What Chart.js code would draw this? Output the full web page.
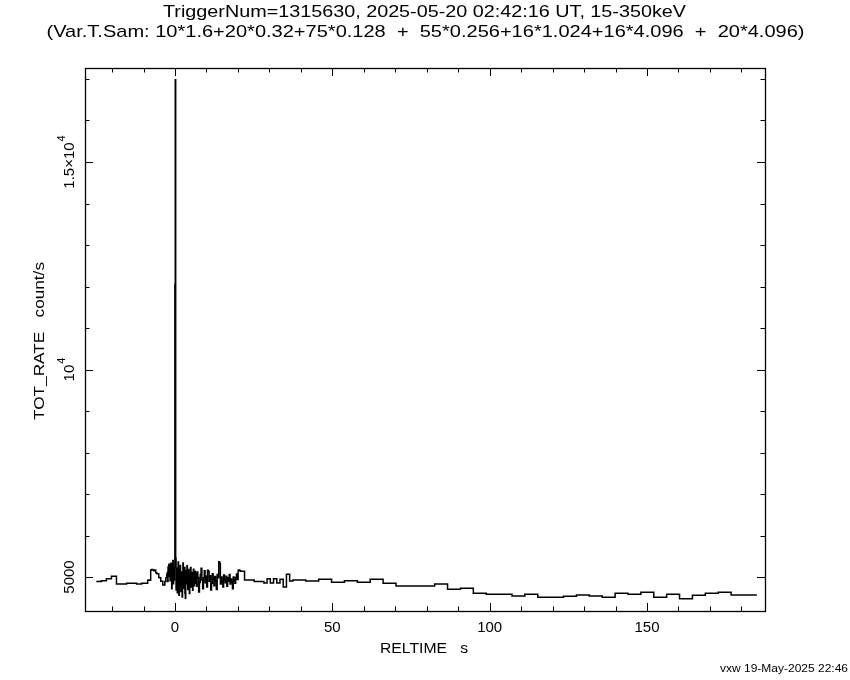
<!DOCTYPE html>
<html><head><meta charset="utf-8">
<script src="https://cdn.jsdelivr.net/npm/chart.js@4.4.1/dist/chart.umd.min.js"></script>
<style>html,body{margin:0;padding:0;background:#fff;}#wrap{width:850px;height:680px;position:relative;}</style>
</head><body><div id="wrap"><canvas id="c" width="850" height="680"></canvas></div>
<script>
// ---- text ----
const titleLine1 = 'TriggerNum=1315630, 2025-05-20 02:42:16 UT, 15-350keV';
const titleLine2 = '(Var.T.Sam: 10*1.6+20*0.32+75*0.128  +  55*0.256+16*1.024+16*4.096  +  20*4.096)';
const xAxisTitle = 'RELTIME   s';
const yAxisTitle = 'TOT_RATE   count/s';
const footerText = 'vxw 19-May-2025 22:46';
const xTickValues = [0, 50, 100, 150];
const xTickLabels = ['0', '50', '100', '150'];
const yTickValues = [5000, 10000, 15000];
const yTickLabels = [['5000', ''], ['10', '4'], ['1.5\u00d710', '4']];

// ---- sampling (from title) ----
const segCounts = [10, 20, 75, 55, 16, 16, 20];
const segWidths = [1.6, 0.32, 0.128, 0.256, 1.024, 4.096, 4.096];
const startTime = -25.0;

// ---- rates (count/s) per segment ----
const rate1600 = [4890, 4890, 4910, 4960, 5020, 4830, 4830, 4850, 4850, 4830];
const rate0320 = [4850, 4850, 4920, 4930, 4920, 5170, 5180, 5170, 5150, 5170,
                  5100, 5080, 5080, 4990, 4980, 4900, 4900, 4810, 4810, 4890];
const rate0128 = [4980, 5060, 5110, 4890, 5240, 5180, 5310, 5020, 5270, 4910,
                  5150, 5330, 4980, 4720, 5060, 5290, 5400, 4840, 5120, 4930,
                  5230, 12050, 16980, 5450, 4690, 5080, 5210, 4620, 4870, 5360,
                  5010, 4560, 4770, 5190, 5280, 4890, 4650, 5120, 4980, 4520,
                  4800, 5340, 5060, 4730, 4910, 5230, 4610, 4490, 5000, 5150,
                  4840, 5270, 5040, 4700, 4950, 5180, 5080, 4600, 4880, 5020,
                  5230, 4760, 4930, 5110, 4820, 4680, 5060, 5190, 4900, 4790,
                  5000, 5140, 4850, 4970, 5080];
const rate0256 = [4780, 5120, 4990, 4640, 4870, 5060, 5210, 4930, 4720, 4980,
                  5150, 4860, 5020, 4760, 5160, 5140, 4900, 5030, 4690, 4850,
                  5080, 4950, 4790, 5010, 4910, 4700, 5060, 4980, 5370, 5330,
                  4830, 5000, 4900, 4760, 5050, 4940, 4860, 5020, 4780, 4980,
                  4900, 5060, 4830, 4950, 4880, 4720, 5000, 4930, 4850, 4990,
                  5070, 4940, 5160, 5170, 5150];
const rate1024 = [5140, 5140, 4930, 4930, 4930, 4890, 4890, 4890, 4855, 4960,
                  4855, 4960, 4855, 4945, 4760, 5065];
const rate4096a = [4904, 4928, 4904, 4945, 4872, 4911, 4872, 4945, 4848, 4783,
                   4783, 4783, 4831, 4704, 4728, 4607];
const rate4096b = [4583, 4583, 4542, 4583, 4511, 4511, 4535, 4566, 4542, 4511,
                   4607, 4583, 4631, 4511, 4583, 4477, 4559, 4607, 4631, 4566];

// ---- axis ranges ----
const xMin = -28.6, xMax = 187.5;
const yMin = 4181, yMax = 17265;

// build step points from bin edges
const segRates = [rate1600, rate0320, rate0128, rate0256, rate1024, rate4096a, rate4096b];
const points = [];
let t = startTime;
segRates.forEach((arr, s) => {
  arr.forEach(v => { points.push({x: t, y: v}); t += segWidths[s]; });
});
points.push({x: t, y: segRates[segRates.length - 1][segRates[segRates.length - 1].length - 1]});

const FONT = '"Liberation Sans", "DejaVu Sans", sans-serif';
function fitText(ctx, text, cx, cy, width, size, rot) {
  ctx.save();
  ctx.font = size + 'px ' + FONT;
  const w = ctx.measureText(text).width;
  ctx.translate(cx, cy);
  if (rot) ctx.rotate(rot);
  ctx.scale(width / w, 1);
  ctx.textAlign = 'center';
  ctx.textBaseline = 'middle';
  ctx.fillStyle = '#000';
  ctx.fillText(text, 0, 0);
  ctx.restore();
}

const framePlugin = {
  id: 'frame',
  afterDraw(chart) {
    const ctx = chart.ctx, a = chart.chartArea;
    const xs = chart.scales.x, ys = chart.scales.y;
    ctx.save();
    ctx.strokeStyle = '#000';
    ctx.lineWidth = 1.3;
    ctx.strokeRect(Math.round(a.left) + 0.5, Math.round(a.top) + 0.5,
                   Math.round(a.right - a.left), Math.round(a.bottom - a.top));
    ctx.lineWidth = 1;
    ctx.beginPath();
    for (let v = -20; v <= 180; v += 10) {
      const px = Math.round(xs.getPixelForValue(v)) + 0.5;
      const len = (v % 50 === 0) ? 8 : 4.5;
      ctx.moveTo(px, a.bottom); ctx.lineTo(px, a.bottom - len);
      ctx.moveTo(px, a.top); ctx.lineTo(px, a.top + len);
    }
    for (let v = 5000; v <= 17000; v += 1000) {
      const py = Math.round(ys.getPixelForValue(v)) + 0.5;
      const len = (v % 5000 === 0) ? 8 : 4.5;
      ctx.moveTo(a.left, py); ctx.lineTo(a.left + len, py);
      ctx.moveTo(a.right, py); ctx.lineTo(a.right - len, py);
    }
    ctx.stroke();

    // x tick labels
    ctx.fillStyle = '#000';
    ctx.font = '15px ' + FONT;
    ctx.textAlign = 'center';
    ctx.textBaseline = 'middle';
    xTickValues.forEach((v, i) => {
      ctx.fillText(xTickLabels[i], xs.getPixelForValue(v), a.bottom + 17);
    });
    // y tick labels (rotated, with superscripts)
    yTickValues.forEach((v, i) => {
      const py = ys.getPixelForValue(v);
      const [base, sup] = yTickLabels[i];
      ctx.save();
      ctx.translate(a.left - 15, py);
      ctx.rotate(-Math.PI / 2);
      ctx.font = '15px ' + FONT;
      const bw = ctx.measureText(base).width;
      ctx.font = '11px ' + FONT;
      const sw = sup ? ctx.measureText(sup).width + 1 : 0;
      const start = -(bw + sw) / 2;
      ctx.textAlign = 'left';
      ctx.textBaseline = 'middle';
      ctx.font = '15px ' + FONT;
      ctx.fillText(base, start, 0);
      if (sup) { ctx.font = '11px ' + FONT; ctx.fillText(sup, start + bw + 1, -8); }
      ctx.restore();
    });
    // titles
    fitText(ctx, titleLine1, 424.5, 12, 523, 17, 0);
    fitText(ctx, titleLine2, 425.5, 32, 758, 17, 0);
    fitText(ctx, xAxisTitle, 424, 649, 88, 15, 0);
    fitText(ctx, yAxisTitle, 40, 341, 158, 15, -Math.PI / 2);
    fitText(ctx, footerText, 784, 669, 128, 11, 0);
    ctx.restore();
  }
};

new Chart(document.getElementById('c'), {
  type: 'line',
  data: { datasets: [{ data: points, stepped: 'after', borderColor: '#000', borderWidth: 1.5,
                       pointRadius: 0, fill: false, tension: 0 }] },
  options: {
    responsive: false, animation: false, devicePixelRatio: 1,
    layout: { padding: { left: 85, right: 85, top: 68, bottom: 69 } },
    plugins: { legend: { display: false }, tooltip: { enabled: false }, title: { display: false } },
    scales: {
      x: { type: 'linear', min: xMin, max: xMax,
           grid: { display: false, drawTicks: false }, border: { display: false },
           ticks: { display: false, includeBounds: false } },
      y: { type: 'linear', min: yMin, max: yMax,
           grid: { display: false, drawTicks: false }, border: { display: false },
           ticks: { display: false, includeBounds: false } }
    }
  },
  plugins: [framePlugin]
});
</script></body></html>
